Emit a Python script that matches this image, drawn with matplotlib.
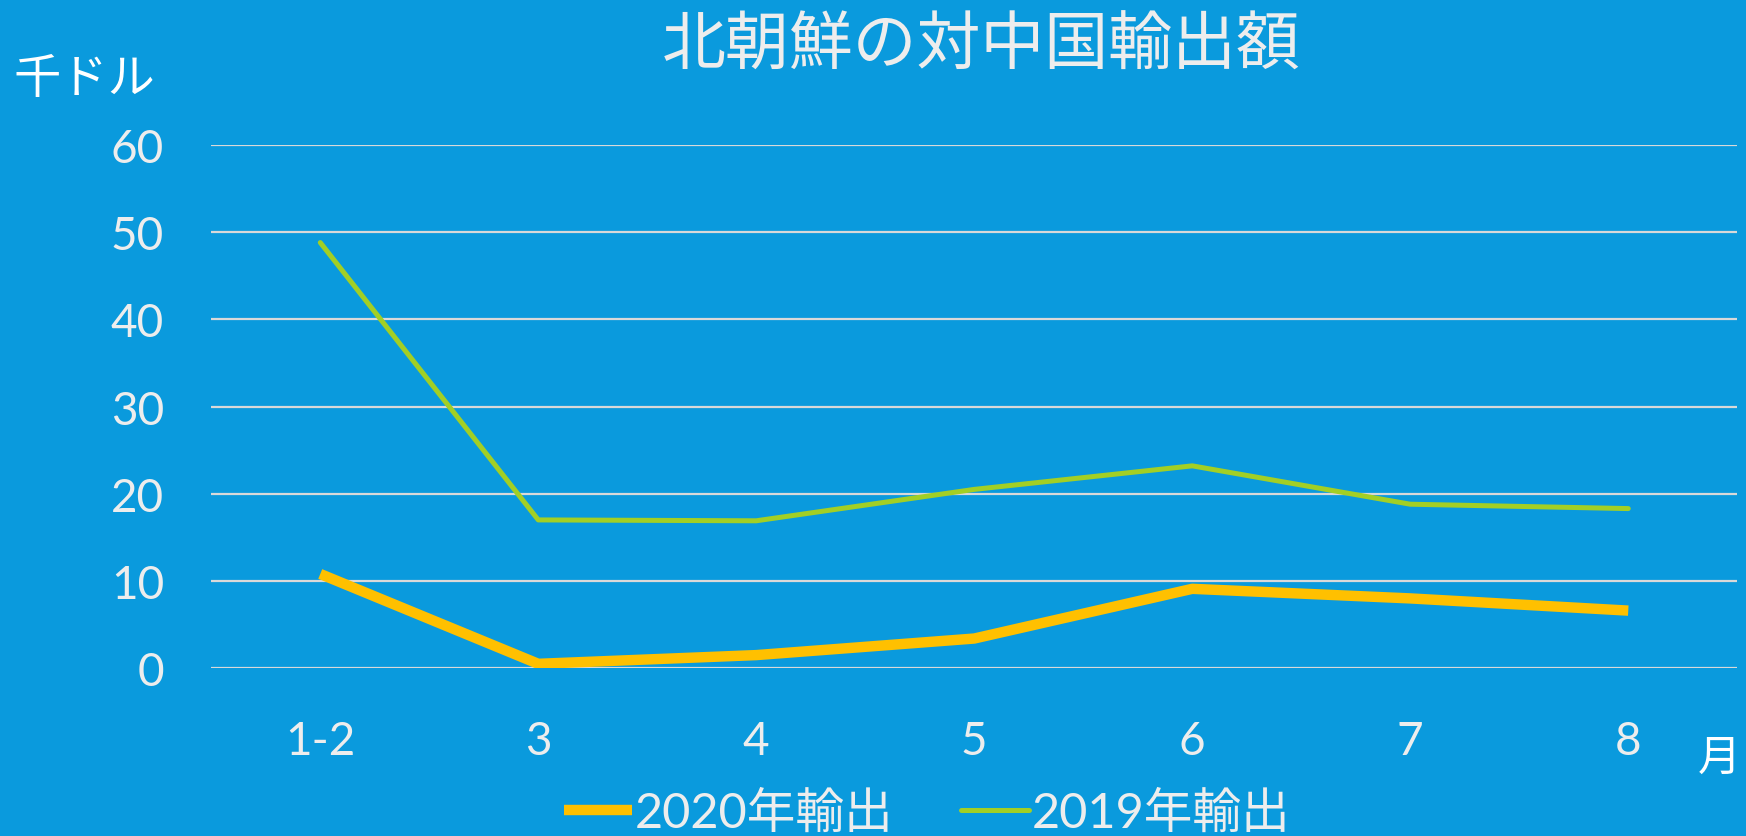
#!/usr/bin/env python3

import matplotlib
matplotlib.use("Agg")
import matplotlib.pyplot as plt

# data (千ドル)
months = ["1-2", "3", "4", "5", "6", "7", "8"]
exports_2020 = [10.8, 0.5, 1.5, 3.4, 9.1, 8.0, 6.6]
exports_2019 = [48.8, 17.0, 16.9, 20.5, 23.2, 18.8, 18.3]
yticks = [0, 10, 20, 30, 40, 50, 60]

bg = "#0A9ADD"
txt = "#EDEDED"

plt.rcParams["font.family"] = ["Lato", "Noto Sans CJK JP", "DejaVu Sans"]

fig = plt.figure(figsize=(17.46, 8.37), dpi=100, facecolor=bg)
ax = fig.add_axes([0.121, 0.2005, 0.874, 0.6252], facecolor=bg)

x = range(len(months))
ax.plot(x, exports_2020, color="#FFC000", lw=7.5, solid_capstyle="butt", label="2020年輸出", zorder=3)
ax.plot(x, exports_2019, color="#A2CF25", lw=3.6, solid_capstyle="round", label="2019年輸出", zorder=3)

ax.set_xlim(-0.5, len(months) - 0.5)
ax.set_ylim(0, 60)
ax.set_yticks(yticks)
ax.set_xticks(list(x))
ax.set_xticklabels(months)
ax.grid(axis="y", color="#D9D9D9", lw=1.6)
ax.set_axisbelow(True)
for s in ax.spines.values():
    s.set_visible(False)
ax.tick_params(length=0, colors=txt, labelsize=33)
ax.tick_params(axis="x", pad=37)
ax.tick_params(axis="y", pad=34)

# titles and unit labels
fig.text(0.562, 0.945, "北朝鮮の対中国輸出額", ha="center", va="center", fontsize=46, color=txt)
fig.text(0.008, 0.905, "千ドル", ha="left", va="center", fontsize=34, color="white")
fig.text(0.997, 0.093, "月", ha="right", va="center", fontsize=31, color="white")

fig.legend(loc="center", bbox_to_anchor=(0.531, 0.028), ncol=2, frameon=False,
           fontsize=35, labelcolor=txt, handlelength=1.4, handletextpad=0.05,
           columnspacing=1.4)

fig.savefig("out.png", dpi=100, facecolor=bg)
